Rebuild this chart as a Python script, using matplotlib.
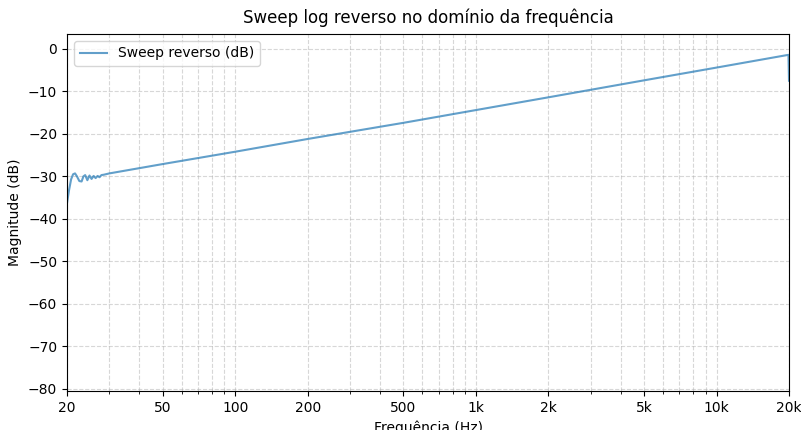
import numpy as np
import matplotlib.pyplot as plt

# valores (Hz, dB)
freq_hz = [20, 20.4, 20.8, 21.2, 21.6, 22.0, 22.5, 23.0, 23.4, 23.8, 24.3, 24.8,
           25.3, 25.8, 26.3, 26.8, 27.3, 27.8, 28.5, 30, 50, 100, 200, 500,
           1000, 2000, 5000, 10000, 19900, 20000]
mag_db = [-36.3, -33.2, -30.7, -29.5, -29.3, -30.0, -31.1, -31.2, -30.0, -29.7,
          -30.9, -29.8, -30.6, -29.9, -30.4, -29.9, -30.2, -29.7, -29.6, -29.3,
          -27.1, -24.2, -21.2, -17.4, -14.4, -11.4, -7.4, -4.4, -1.4, -7.5]

tick_vals = [20, 50, 100, 200, 500, 1000, 2000, 5000, 10000, 20000]
tick_labels = ['20', '50', '100', '200', '500', '1k', '2k', '5k', '10k', '20k']

fig = plt.figure(figsize=(8.01, 4.30), dpi=100)
ax = fig.add_axes([67/801, 39/430, 722/801, 357/430])

ax.semilogx(freq_hz, mag_db, color='C0', alpha=0.7, lw=1.5, label='Sweep reverso (dB)')
ax.set_xlim(20, 20000)
ax.set_ylim(-80.5, 3.5)
ax.set_xticks(tick_vals)
ax.set_xticklabels(tick_labels)
ax.grid(True, which='both', ls='--', alpha=0.5)
ax.set_title('Sweep log reverso no domínio da frequência', pad=8)
ax.set_xlabel('Frequência (Hz)')
ax.set_ylabel('Magnitude (dB)')
ax.legend(loc='upper left')

fig.savefig('out.png', dpi=100)
